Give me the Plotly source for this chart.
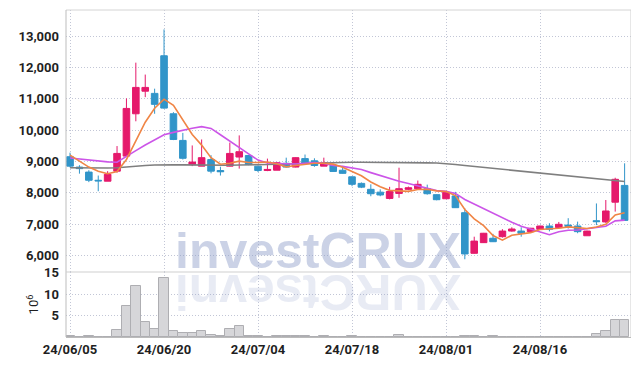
import plotly.graph_objects as go

dates = [
    "24/06/05", "24/06/07", "24/06/10", "24/06/11", "24/06/12", "24/06/13", "24/06/14", "24/06/17", "24/06/18", "24/06/19",
    "24/06/20", "24/06/21", "24/06/24", "24/06/25", "24/06/26", "24/06/27", "24/06/28", "24/07/01", "24/07/02", "24/07/03",
    "24/07/04", "24/07/05", "24/07/08", "24/07/09", "24/07/10", "24/07/11", "24/07/12", "24/07/15", "24/07/16", "24/07/17",
    "24/07/18", "24/07/19", "24/07/22", "24/07/23", "24/07/24", "24/07/25", "24/07/26", "24/07/29", "24/07/30", "24/07/31",
    "24/08/01", "24/08/02", "24/08/05", "24/08/06", "24/08/07", "24/08/08", "24/08/09", "24/08/12", "24/08/13", "24/08/14",
    "24/08/16", "24/08/19", "24/08/20", "24/08/21", "24/08/22", "24/08/23", "24/08/26", "24/08/27", "24/08/28", "24/08/29",
]

open_ = [9150, 8820, 8660, 8400, 8370, 8690, 9170, 10520, 11240, 11170,
         12370, 10520, 9670, 8900, 8850, 9060, 8710, 8850, 9140, 9190,
         8850, 8710, 8720, 8940, 8820, 9090, 9020, 8850, 8880, 8720,
         8510, 8300, 8110, 8020, 7820, 7980, 8110, 8130, 8130, 7940,
         7810, 7900, 7365, 6070, 6410, 6550, 6600, 6780, 6780, 6760,
         6835, 6940, 6890, 6970, 6940, 6630, 7110, 7070, 7700, 8235]
high = [9280, 8880, 8720, 8550, 8690, 9490, 11010, 12150, 11770, 11320,
        13210, 10570, 9910, 9510, 9700, 9200, 8830, 9600, 9830, 9200,
        8870, 9090, 8980, 9120, 9130, 9220, 9100, 9120, 8900, 8830,
        8520, 8330, 8270, 8110, 8190, 8800, 8200, 8390, 8260, 7950,
        8030, 8030, 7505, 6600, 6720, 6690, 6840, 6900, 6900, 6880,
        6950, 7030, 7070, 7190, 7080, 6790, 7660, 7770, 8480, 8940]
low = [8810, 8610, 8340, 8050, 8370, 8640, 9150, 10280, 11050, 10520,
       10680, 9680, 9060, 8850, 8850, 8620, 8550, 8840, 8770, 8880,
       8660, 8690, 8720, 8810, 8810, 8930, 8830, 8850, 8670, 8610,
       8210, 8150, 7890, 7890, 7790, 7840, 8080, 8120, 7940, 7760,
       7800, 7520, 5880, 6060, 6400, 6430, 6570, 6760, 6600, 6750,
       6830, 6770, 6880, 6860, 6710, 6630, 6970, 7040, 7400, 7100]
close = [8850, 8770, 8400, 8380, 8590, 9255, 10690, 11360, 11360, 10820,
         10700, 9700, 9100, 8980, 9120, 8690, 8670, 9255, 9310, 8900,
         8710, 8745, 8960, 8820, 9120, 8940, 8870, 8960, 8680, 8620,
         8270, 8180, 7970, 7930, 8040, 8130, 8160, 8270, 7970, 7780,
         8020, 7525, 6050, 6460, 6710, 6440, 6780, 6845, 6710, 6870,
         6940, 6835, 6995, 6930, 6760, 6780, 7080, 7420, 8430, 7120]

ma5 = [9200, 9010, 8820, 8690, 8610, 8679, 9063, 9655, 10251, 10697,
       10986, 10788, 10336, 9860, 9520, 9118, 8912, 8943, 9009, 8965,
       8969, 8984, 8925, 8827, 8871, 8917, 8942, 8942, 8914, 8814,
       8680, 8542, 8344, 8194, 8078, 8050, 8046, 8106, 8114, 8062,
       8040, 7913, 7469, 7167, 6953, 6637, 6488, 6647, 6697, 6729,
       6829, 6840, 6870, 6914, 6892, 6860, 6909, 6994, 7294, 7366]
ma10 = [9110, 9075, 9040, 9010, 8985, 8975, 9170, 9345, 9525, 9700,
        9850, 9926, 9996, 10056, 10109, 10052, 9850, 9640, 9435, 9243,
        9044, 8948, 8934, 8918, 8918, 8943, 8963, 8934, 8871, 8843,
        8799, 8742, 8643, 8554, 8446, 8365, 8294, 8225, 8154, 8070,
        8045, 7980, 7788, 7641, 7508, 7339, 7201, 7058, 6932, 6841,
        6733, 6664, 6759, 6806, 6811, 6845, 6875, 6932, 7104, 7129]
ma60 = [8800, 8795, 8790, 8790, 8790, 8800, 8830, 8860, 8870, 8885,
        8900, 8895, 8890, 8885, 8880, 8880, 8880, 8880, 8885, 8885,
        8890, 8900, 8910, 8920, 8930, 8940, 8950, 8960, 8965, 8970,
        8975, 8975, 8975, 8970, 8970, 8965, 8960, 8960, 8955, 8950,
        8935, 8900, 8870, 8840, 8810, 8780, 8750, 8720, 8690, 8660,
        8630, 8600, 8570, 8540, 8510, 8480, 8450, 8420, 8390, 8360]

volume = [0.3, 0.1, 0.35, 0.1, 0.1, 1.7, 7.3, 11.9, 3.6, 1.9,
          13.7, 1.4, 0.9, 0.9, 1.3, 0.5, 0.2, 1.9, 2.6, 0.15,
          0.15, 0.1, 0.2, 0.2, 0.2, 0.2, 0.1, 0.2, 0.1, 0.1,
          0.15, 0.1, 0.1, 0.1, 0.1, 0.55, 0.1, 0.1, 0.1, 0.1,
          0.1, 0.1, 0.25, 0.25, 0.1, 0.2, 0.1, 0.1, 0.1, 0.1,
          0.1, 0.1, 0.1, 0.1, 0.1, 0.1, 0.75, 1.4, 3.9, 3.9]

tick_labels = ["24/06/05", "24/06/20", "24/07/04", "24/07/18", "24/08/01", "24/08/16"]
price_ticks = [6000, 7000, 8000, 9000, 10000, 11000, 12000, 13000]
volume_ticks = [5, 10, 15]

RED = "#e5196b"
BLUE = "#3195c9"
GRID = "#c2c6d6"
TXT = "#1f1f1f"
FONT = "Roboto"
DOT = "1px,2px"

fig = go.Figure()

fig.add_trace(go.Bar(
    x=dates, y=volume, xaxis="x", yaxis="y2",
    marker=dict(color="#d6d6d9", line=dict(color="#aeaeb2", width=1)),
    showlegend=False, hoverinfo="skip",
))

fig.add_trace(go.Candlestick(
    x=dates, open=open_, high=high, low=low, close=close,
    xaxis="x", yaxis="y",
    increasing=dict(line=dict(color=RED, width=1), fillcolor=RED),
    decreasing=dict(line=dict(color=BLUE, width=1), fillcolor=BLUE),
    whiskerwidth=0, showlegend=False,
))

for vals, col in [(ma60, "#7f7f7f"), (ma10, "#cc55e8"), (ma5, "#f08545")]:
    fig.add_trace(go.Scatter(
        x=dates, y=vals, mode="lines", xaxis="x", yaxis="y",
        line=dict(color=col, width=1.6), showlegend=False, hoverinfo="skip",
    ))

# page body has an 8px margin, so the figure is placed at (8, 8)
PLOT_H = 327
vol_frac = 65 / PLOT_H

tf = dict(family=FONT, size=13, color=TXT, weight="bold")

fig.update_layout(
    width=631, height=358,
    margin=dict(l=58, r=8, t=2, b=29, autoexpand=False),
    paper_bgcolor="white", plot_bgcolor="white",
    bargap=0, boxgap=0.3, boxgroupgap=0,
    font=dict(family=FONT, size=13, color=TXT),
    xaxis=dict(
        type="category", anchor="y2", range=[-0.43, 59.68], automargin=False,
        rangeslider=dict(visible=False),
        tickmode="array", tickvals=tick_labels, ticktext=tick_labels,
        showgrid=True, gridcolor=GRID, griddash=DOT, gridwidth=1,
        showline=True, linecolor="#bbbbbb", linewidth=1,
        ticks="", tickfont=tf, ticklabelstandoff=0,
        zeroline=False,
    ),
    yaxis=dict(
        domain=[vol_frac, 1], range=[5474, 13829], automargin=False,
        tickmode="array", tickvals=price_ticks, tickformat=",d",
        showgrid=True, gridcolor=GRID, griddash=DOT, gridwidth=1,
        zeroline=False, ticks="", ticklabelstandoff=6,
        tickfont=tf,
    ),
    yaxis2=dict(
        domain=[0, vol_frac], range=[0, 15.2], automargin=False,
        tickmode="array", tickvals=volume_ticks,
        showgrid=True, gridcolor=GRID, griddash=DOT, gridwidth=1,
        zeroline=False, ticks="", ticklabelstandoff=6,
        tickfont=tf,
        title=dict(text="10<sup>6</sup>", font=dict(family=FONT, size=13, color=TXT), standoff=2),
    ),
    shapes=[
        dict(type="line", xref="paper", yref="paper", x0=0, x1=1, y0=1, y1=1,
             line=dict(color="#d4d4d4", width=1)),
        dict(type="line", xref="paper", yref="paper", x0=0, x1=0, y0=0, y1=1,
             line=dict(color="#bdbdbd", width=1)),
        dict(type="line", xref="paper", yref="paper", x0=1, x1=1, y0=0, y1=1,
             line=dict(color="#cfcfcf", width=1)),
        dict(type="line", xref="paper", yref="paper", x0=0, x1=1, y0=vol_frac, y1=vol_frac,
             line=dict(color="#cfcfcf", width=1)),
    ],
    annotations=[
        dict(text="<b>investCRUX</b>", xref="paper", yref="paper",
             x=(318 - 66) / 565, y=(337 - 251) / PLOT_H, xanchor="center", yanchor="middle",
             showarrow=False, font=dict(family="Liberation Sans", size=50, color="rgba(140,155,200,0.45)")),
        dict(text="<b>XURCtsevni</b>", xref="paper", yref="paper", textangle=180,
             x=(318 - 66) / 565, y=(337 - 292) / PLOT_H, xanchor="center", yanchor="middle",
             showarrow=False, font=dict(family="Liberation Sans", size=50, color="rgba(140,155,200,0.2)")),
    ],
)

fig.write_html("out.html")
